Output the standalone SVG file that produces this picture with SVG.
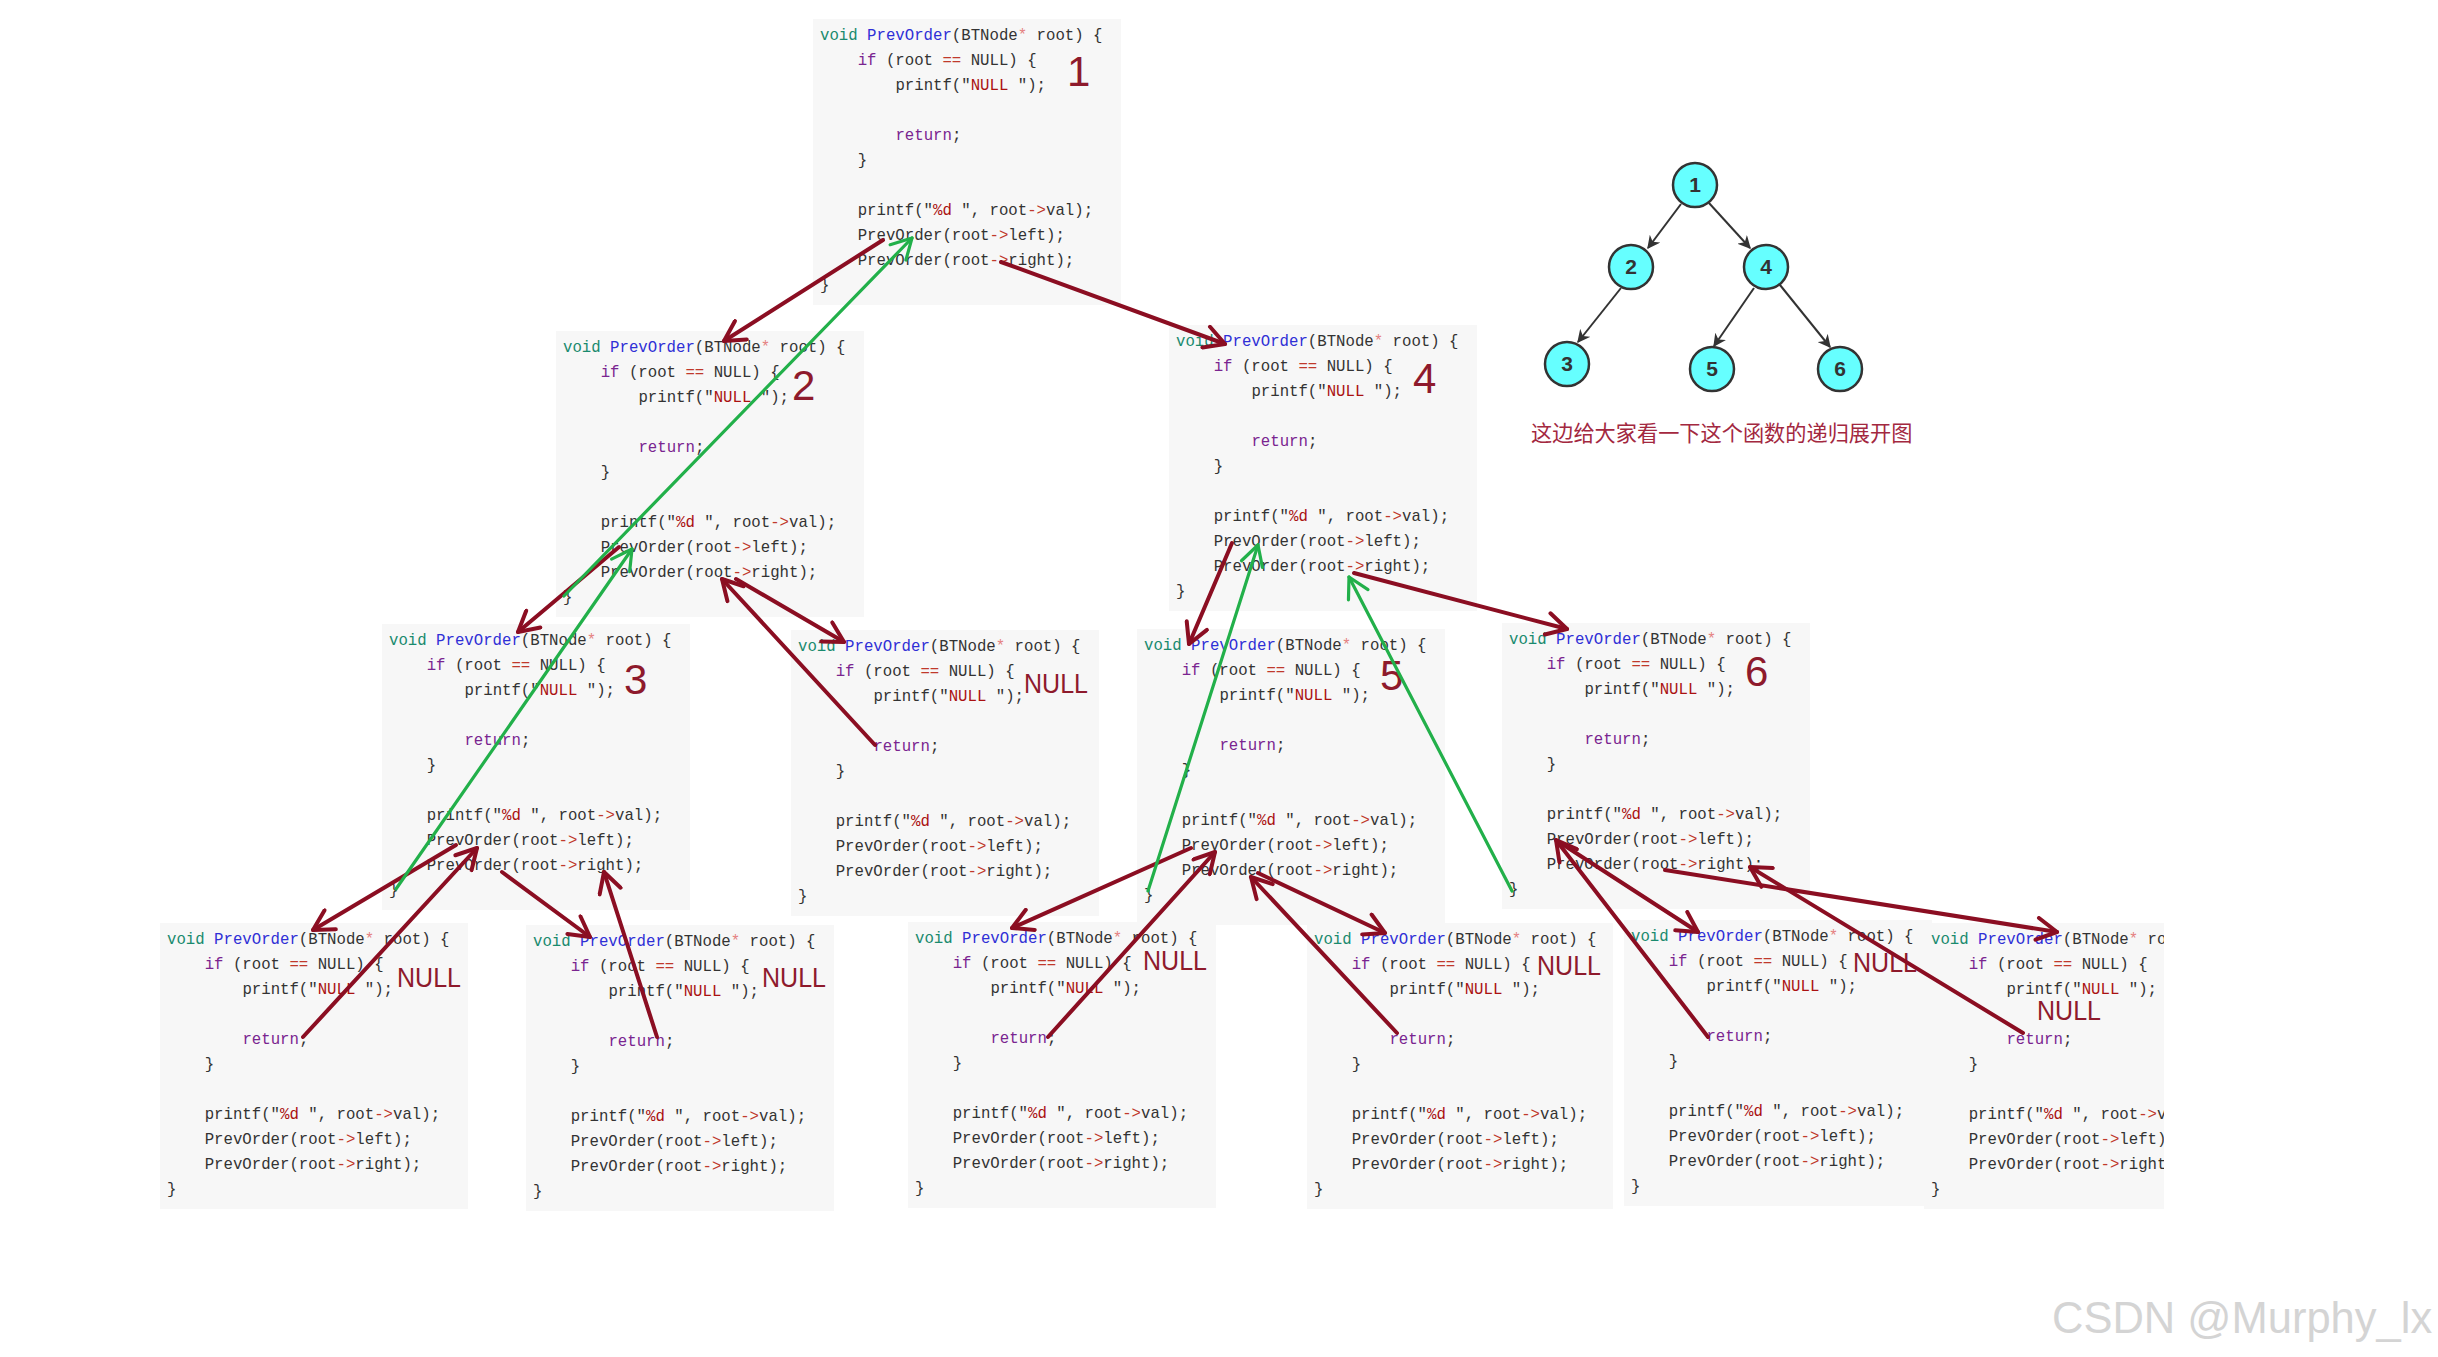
<svg xmlns="http://www.w3.org/2000/svg" width="2438" height="1357" viewBox="0 0 2438 1357">
<style>
.bg{fill:#f7f7f7}
.c{font-family:"Liberation Mono","DejaVu Sans Mono",monospace;font-size:15.7px;fill:#333}
.t{fill:#198a6e}
.d{fill:#2f2fd6}
.p{fill:#e58080}
.k{fill:#7a2590}
.o{fill:#c0392b}
.s{fill:#aa1111}
.num{font-family:"Liberation Sans","Noto Sans",sans-serif;font-size:42px;fill:#8e1a2c}
.nul{font-family:"Liberation Sans","Noto Sans",sans-serif;font-size:28px;fill:#8e1a2c}
.red{fill:none;stroke:#8b0e22;stroke-width:4;stroke-linecap:round;marker-end:url(#hr)}
.grn{fill:none;stroke:#22b04a;stroke-width:3.2;stroke-linecap:round;marker-end:url(#hg)}
.te{fill:none;stroke:#333;stroke-width:2;marker-end:url(#ht)}
.tn{fill:#66ffff;stroke:#333;stroke-width:2.5}
.tl{font-family:"Liberation Sans","Noto Sans",sans-serif;font-size:21px;font-weight:bold;fill:#333;text-anchor:middle}
</style>
<defs>
<marker id="hr" viewBox="0 0 26 26" refX="23" refY="13" markerWidth="26" markerHeight="26" markerUnits="userSpaceOnUse" orient="auto"><path d="M3,2 L23,13 L3,24" fill="none" stroke="#8b0e22" stroke-width="4" stroke-linecap="round" stroke-linejoin="round"/></marker>
<marker id="hg" viewBox="0 0 26 26" refX="23" refY="13" markerWidth="26" markerHeight="26" markerUnits="userSpaceOnUse" orient="auto"><path d="M3,2 L23,13 L3,24" fill="none" stroke="#22b04a" stroke-width="3.2" stroke-linecap="round" stroke-linejoin="round"/></marker>
<marker id="ht" viewBox="0 0 10 10" refX="9" refY="5" markerWidth="13" markerHeight="13" markerUnits="userSpaceOnUse" orient="auto"><path d="M0,0 L10,5 L0,10 L3,5 Z" fill="#333"/></marker>
<clipPath id="clipB6"><rect x="0" y="0" width="240" height="290"/></clipPath>
</defs>
<rect width="2438" height="1357" fill="#ffffff"/>

<g id="frame-1" transform="translate(813,19)">
<rect class="bg" width="308" height="286"/>
<text class="c" x="7" y="21"><tspan class="t">void</tspan> <tspan class="d">PrevOrder</tspan>(BTNode<tspan class="p">*</tspan> root) {</text>
<text class="c" x="44.7" y="46"><tspan class="k">if</tspan> (root <tspan class="o">==</tspan> NULL) {</text>
<text class="c" x="82.4" y="71">printf("<tspan class="s">NULL </tspan>");</text>
<text class="c" x="82.4" y="121"><tspan class="k">return</tspan>;</text>
<text class="c" x="44.7" y="146">}</text>
<text class="c" x="44.7" y="196">printf("<tspan class="s">%d </tspan>", root<tspan class="o">-&gt;</tspan>val);</text>
<text class="c" x="44.7" y="221">PrevOrder(root<tspan class="o">-&gt;</tspan>left);</text>
<text class="c" x="44.7" y="246">PrevOrder(root<tspan class="o">-&gt;</tspan>right);</text>
<text class="c" x="7" y="271">}</text>
<text class="num" x="254" y="67">1</text>
</g>

<g id="frame-2" transform="translate(556,331)">
<rect class="bg" width="308" height="286"/>
<text class="c" x="7" y="21"><tspan class="t">void</tspan> <tspan class="d">PrevOrder</tspan>(BTNode<tspan class="p">*</tspan> root) {</text>
<text class="c" x="44.7" y="46"><tspan class="k">if</tspan> (root <tspan class="o">==</tspan> NULL) {</text>
<text class="c" x="82.4" y="71">printf("<tspan class="s">NULL </tspan>");</text>
<text class="c" x="82.4" y="121"><tspan class="k">return</tspan>;</text>
<text class="c" x="44.7" y="146">}</text>
<text class="c" x="44.7" y="196">printf("<tspan class="s">%d </tspan>", root<tspan class="o">-&gt;</tspan>val);</text>
<text class="c" x="44.7" y="221">PrevOrder(root<tspan class="o">-&gt;</tspan>left);</text>
<text class="c" x="44.7" y="246">PrevOrder(root<tspan class="o">-&gt;</tspan>right);</text>
<text class="c" x="7" y="271">}</text>
<text class="num" x="236" y="69">2</text>
</g>

<g id="frame-4" transform="translate(1169,325)">
<rect class="bg" width="308" height="286"/>
<text class="c" x="7" y="21"><tspan class="t">void</tspan> <tspan class="d">PrevOrder</tspan>(BTNode<tspan class="p">*</tspan> root) {</text>
<text class="c" x="44.7" y="46"><tspan class="k">if</tspan> (root <tspan class="o">==</tspan> NULL) {</text>
<text class="c" x="82.4" y="71">printf("<tspan class="s">NULL </tspan>");</text>
<text class="c" x="82.4" y="121"><tspan class="k">return</tspan>;</text>
<text class="c" x="44.7" y="146">}</text>
<text class="c" x="44.7" y="196">printf("<tspan class="s">%d </tspan>", root<tspan class="o">-&gt;</tspan>val);</text>
<text class="c" x="44.7" y="221">PrevOrder(root<tspan class="o">-&gt;</tspan>left);</text>
<text class="c" x="44.7" y="246">PrevOrder(root<tspan class="o">-&gt;</tspan>right);</text>
<text class="c" x="7" y="271">}</text>
<text class="num" x="244" y="68">4</text>
</g>

<g id="frame-3" transform="translate(382,624)">
<rect class="bg" width="308" height="286"/>
<text class="c" x="7" y="21"><tspan class="t">void</tspan> <tspan class="d">PrevOrder</tspan>(BTNode<tspan class="p">*</tspan> root) {</text>
<text class="c" x="44.7" y="46"><tspan class="k">if</tspan> (root <tspan class="o">==</tspan> NULL) {</text>
<text class="c" x="82.4" y="71">printf("<tspan class="s">NULL </tspan>");</text>
<text class="c" x="82.4" y="121"><tspan class="k">return</tspan>;</text>
<text class="c" x="44.7" y="146">}</text>
<text class="c" x="44.7" y="196">printf("<tspan class="s">%d </tspan>", root<tspan class="o">-&gt;</tspan>val);</text>
<text class="c" x="44.7" y="221">PrevOrder(root<tspan class="o">-&gt;</tspan>left);</text>
<text class="c" x="44.7" y="246">PrevOrder(root<tspan class="o">-&gt;</tspan>right);</text>
<text class="c" x="7" y="271">}</text>
<text class="num" x="242" y="70">3</text>
</g>

<g id="frame-2-right-null" transform="translate(791,630)">
<rect class="bg" width="308" height="286"/>
<text class="c" x="7" y="21"><tspan class="t">void</tspan> <tspan class="d">PrevOrder</tspan>(BTNode<tspan class="p">*</tspan> root) {</text>
<text class="c" x="44.7" y="46"><tspan class="k">if</tspan> (root <tspan class="o">==</tspan> NULL) {</text>
<text class="c" x="82.4" y="71">printf("<tspan class="s">NULL </tspan>");</text>
<text class="c" x="82.4" y="121"><tspan class="k">return</tspan>;</text>
<text class="c" x="44.7" y="146">}</text>
<text class="c" x="44.7" y="196">printf("<tspan class="s">%d </tspan>", root<tspan class="o">-&gt;</tspan>val);</text>
<text class="c" x="44.7" y="221">PrevOrder(root<tspan class="o">-&gt;</tspan>left);</text>
<text class="c" x="44.7" y="246">PrevOrder(root<tspan class="o">-&gt;</tspan>right);</text>
<text class="c" x="7" y="271">}</text>
<text class="nul" x="233" y="63" textLength="64" lengthAdjust="spacingAndGlyphs">NULL</text>
</g>

<g id="frame-5" transform="translate(1137,629)">
<rect class="bg" width="308" height="296"/>
<text class="c" x="7" y="21"><tspan class="t">void</tspan> <tspan class="d">PrevOrder</tspan>(BTNode<tspan class="p">*</tspan> root) {</text>
<text class="c" x="44.7" y="46"><tspan class="k">if</tspan> (root <tspan class="o">==</tspan> NULL) {</text>
<text class="c" x="82.4" y="71">printf("<tspan class="s">NULL </tspan>");</text>
<text class="c" x="82.4" y="121"><tspan class="k">return</tspan>;</text>
<text class="c" x="44.7" y="146">}</text>
<text class="c" x="44.7" y="196">printf("<tspan class="s">%d </tspan>", root<tspan class="o">-&gt;</tspan>val);</text>
<text class="c" x="44.7" y="221">PrevOrder(root<tspan class="o">-&gt;</tspan>left);</text>
<text class="c" x="44.7" y="246">PrevOrder(root<tspan class="o">-&gt;</tspan>right);</text>
<text class="c" x="7" y="271">}</text>
<text class="num" x="243" y="61">5</text>
</g>

<g id="frame-6" transform="translate(1502,623)">
<rect class="bg" width="308" height="286"/>
<text class="c" x="7" y="21"><tspan class="t">void</tspan> <tspan class="d">PrevOrder</tspan>(BTNode<tspan class="p">*</tspan> root) {</text>
<text class="c" x="44.7" y="46"><tspan class="k">if</tspan> (root <tspan class="o">==</tspan> NULL) {</text>
<text class="c" x="82.4" y="71">printf("<tspan class="s">NULL </tspan>");</text>
<text class="c" x="82.4" y="121"><tspan class="k">return</tspan>;</text>
<text class="c" x="44.7" y="146">}</text>
<text class="c" x="44.7" y="196">printf("<tspan class="s">%d </tspan>", root<tspan class="o">-&gt;</tspan>val);</text>
<text class="c" x="44.7" y="221">PrevOrder(root<tspan class="o">-&gt;</tspan>left);</text>
<text class="c" x="44.7" y="246">PrevOrder(root<tspan class="o">-&gt;</tspan>right);</text>
<text class="c" x="7" y="271">}</text>
<text class="num" x="243" y="63">6</text>
</g>

<g id="frame-3-left-null" transform="translate(160,923)">
<rect class="bg" width="308" height="286"/>
<text class="c" x="7" y="21"><tspan class="t">void</tspan> <tspan class="d">PrevOrder</tspan>(BTNode<tspan class="p">*</tspan> root) {</text>
<text class="c" x="44.7" y="46"><tspan class="k">if</tspan> (root <tspan class="o">==</tspan> NULL) {</text>
<text class="c" x="82.4" y="71">printf("<tspan class="s">NULL </tspan>");</text>
<text class="c" x="82.4" y="121"><tspan class="k">return</tspan>;</text>
<text class="c" x="44.7" y="146">}</text>
<text class="c" x="44.7" y="196">printf("<tspan class="s">%d </tspan>", root<tspan class="o">-&gt;</tspan>val);</text>
<text class="c" x="44.7" y="221">PrevOrder(root<tspan class="o">-&gt;</tspan>left);</text>
<text class="c" x="44.7" y="246">PrevOrder(root<tspan class="o">-&gt;</tspan>right);</text>
<text class="c" x="7" y="271">}</text>
<text class="nul" x="237" y="64" textLength="64" lengthAdjust="spacingAndGlyphs">NULL</text>
</g>

<g id="frame-3-right-null" transform="translate(526,925)">
<rect class="bg" width="308" height="286"/>
<text class="c" x="7" y="21"><tspan class="t">void</tspan> <tspan class="d">PrevOrder</tspan>(BTNode<tspan class="p">*</tspan> root) {</text>
<text class="c" x="44.7" y="46"><tspan class="k">if</tspan> (root <tspan class="o">==</tspan> NULL) {</text>
<text class="c" x="82.4" y="71">printf("<tspan class="s">NULL </tspan>");</text>
<text class="c" x="82.4" y="121"><tspan class="k">return</tspan>;</text>
<text class="c" x="44.7" y="146">}</text>
<text class="c" x="44.7" y="196">printf("<tspan class="s">%d </tspan>", root<tspan class="o">-&gt;</tspan>val);</text>
<text class="c" x="44.7" y="221">PrevOrder(root<tspan class="o">-&gt;</tspan>left);</text>
<text class="c" x="44.7" y="246">PrevOrder(root<tspan class="o">-&gt;</tspan>right);</text>
<text class="c" x="7" y="271">}</text>
<text class="nul" x="236" y="62" textLength="64" lengthAdjust="spacingAndGlyphs">NULL</text>
</g>

<g id="frame-5-left-null" transform="translate(908,922)">
<rect class="bg" width="308" height="286"/>
<text class="c" x="7" y="21"><tspan class="t">void</tspan> <tspan class="d">PrevOrder</tspan>(BTNode<tspan class="p">*</tspan> root) {</text>
<text class="c" x="44.7" y="46"><tspan class="k">if</tspan> (root <tspan class="o">==</tspan> NULL) {</text>
<text class="c" x="82.4" y="71">printf("<tspan class="s">NULL </tspan>");</text>
<text class="c" x="82.4" y="121"><tspan class="k">return</tspan>;</text>
<text class="c" x="44.7" y="146">}</text>
<text class="c" x="44.7" y="196">printf("<tspan class="s">%d </tspan>", root<tspan class="o">-&gt;</tspan>val);</text>
<text class="c" x="44.7" y="221">PrevOrder(root<tspan class="o">-&gt;</tspan>left);</text>
<text class="c" x="44.7" y="246">PrevOrder(root<tspan class="o">-&gt;</tspan>right);</text>
<text class="c" x="7" y="271">}</text>
<text class="nul" x="235" y="48" textLength="64" lengthAdjust="spacingAndGlyphs">NULL</text>
</g>

<g id="frame-5-right-null" transform="translate(1307,923)">
<rect class="bg" width="306" height="286"/>
<text class="c" x="7" y="21"><tspan class="t">void</tspan> <tspan class="d">PrevOrder</tspan>(BTNode<tspan class="p">*</tspan> root) {</text>
<text class="c" x="44.7" y="46"><tspan class="k">if</tspan> (root <tspan class="o">==</tspan> NULL) {</text>
<text class="c" x="82.4" y="71">printf("<tspan class="s">NULL </tspan>");</text>
<text class="c" x="82.4" y="121"><tspan class="k">return</tspan>;</text>
<text class="c" x="44.7" y="146">}</text>
<text class="c" x="44.7" y="196">printf("<tspan class="s">%d </tspan>", root<tspan class="o">-&gt;</tspan>val);</text>
<text class="c" x="44.7" y="221">PrevOrder(root<tspan class="o">-&gt;</tspan>left);</text>
<text class="c" x="44.7" y="246">PrevOrder(root<tspan class="o">-&gt;</tspan>right);</text>
<text class="c" x="7" y="271">}</text>
<text class="nul" x="230" y="52" textLength="64" lengthAdjust="spacingAndGlyphs">NULL</text>
</g>

<g id="frame-6-left-null" transform="translate(1624,920)">
<rect class="bg" width="308" height="286"/>
<text class="c" x="7" y="21"><tspan class="t">void</tspan> <tspan class="d">PrevOrder</tspan>(BTNode<tspan class="p">*</tspan> root) {</text>
<text class="c" x="44.7" y="46"><tspan class="k">if</tspan> (root <tspan class="o">==</tspan> NULL) {</text>
<text class="c" x="82.4" y="71">printf("<tspan class="s">NULL </tspan>");</text>
<text class="c" x="82.4" y="121"><tspan class="k">return</tspan>;</text>
<text class="c" x="44.7" y="146">}</text>
<text class="c" x="44.7" y="196">printf("<tspan class="s">%d </tspan>", root<tspan class="o">-&gt;</tspan>val);</text>
<text class="c" x="44.7" y="221">PrevOrder(root<tspan class="o">-&gt;</tspan>left);</text>
<text class="c" x="44.7" y="246">PrevOrder(root<tspan class="o">-&gt;</tspan>right);</text>
<text class="c" x="7" y="271">}</text>
<text class="nul" x="229" y="52" textLength="64" lengthAdjust="spacingAndGlyphs">NULL</text>
</g>

<g id="frame-6-right-null" transform="translate(1924,923)" clip-path="url(#clipB6)">
<rect class="bg" width="240" height="286"/>
<text class="c" x="7" y="21"><tspan class="t">void</tspan> <tspan class="d">PrevOrder</tspan>(BTNode<tspan class="p">*</tspan> root) {</text>
<text class="c" x="44.7" y="46"><tspan class="k">if</tspan> (root <tspan class="o">==</tspan> NULL) {</text>
<text class="c" x="82.4" y="71">printf("<tspan class="s">NULL </tspan>");</text>
<text class="c" x="82.4" y="121"><tspan class="k">return</tspan>;</text>
<text class="c" x="44.7" y="146">}</text>
<text class="c" x="44.7" y="196">printf("<tspan class="s">%d </tspan>", root<tspan class="o">-&gt;</tspan>val);</text>
<text class="c" x="44.7" y="221">PrevOrder(root<tspan class="o">-&gt;</tspan>left);</text>
<text class="c" x="44.7" y="246">PrevOrder(root<tspan class="o">-&gt;</tspan>right);</text>
<text class="c" x="7" y="271">}</text>
<text class="nul" x="113" y="97" textLength="64" lengthAdjust="spacingAndGlyphs">NULL</text>
</g>

<g id="connectors">
<path class="red" d="M883,240 L724,341"/>
<path class="red" d="M1001,262 L1225,344"/>
<path class="red" d="M619,547 L518,632"/>
<path class="red" d="M736,579 L844,642"/>
<path class="red" d="M875,745 L722,579"/>
<path class="red" d="M456,845 L313,930"/>
<path class="red" d="M303,1037 L477,848"/>
<path class="red" d="M502,872 L590,937"/>
<path class="red" d="M657,1037 L604,872"/>
<path class="red" d="M1232,543 L1189,644"/>
<path class="red" d="M1354,573 L1567,629"/>
<path class="red" d="M1191,848 L1012,928"/>
<path class="red" d="M1048,1037 L1215,852"/>
<path class="red" d="M1258,873 L1385,933"/>
<path class="red" d="M1397,1033 L1251,877"/>
<path class="red" d="M1559,842 L1698,932"/>
<path class="red" d="M1708,1037 L1556,840"/>
<path class="red" d="M1665,870 L2057,932"/>
<path class="red" d="M2023,1033 L1750,867"/>
<path class="grn" d="M564,596 L912,238"/>
<path class="grn" d="M396,889 L632,549"/>
<path class="grn" d="M1148,891 L1258,545"/>
<path class="grn" d="M1512,891 L1349,577"/>
</g>

<g id="tree-edges">
<path class="te" d="M1681,204 L1648,248"/>
<path class="te" d="M1709,203 L1750,248"/>
<path class="te" d="M1621,288 L1578,342"/>
<path class="te" d="M1754,288 L1714,346"/>
<path class="te" d="M1780,285 L1830,347"/>
</g>
<g id="tree-node-1"><circle class="tn" cx="1695" cy="185" r="22"/><text class="tl" x="1695" y="192">1</text></g>
<g id="tree-node-2"><circle class="tn" cx="1631" cy="267" r="22"/><text class="tl" x="1631" y="274">2</text></g>
<g id="tree-node-4"><circle class="tn" cx="1766" cy="267" r="22"/><text class="tl" x="1766" y="274">4</text></g>
<g id="tree-node-3"><circle class="tn" cx="1567" cy="364" r="22"/><text class="tl" x="1567" y="371">3</text></g>
<g id="tree-node-5"><circle class="tn" cx="1712" cy="369" r="22"/><text class="tl" x="1712" y="376">5</text></g>
<g id="tree-node-6"><circle class="tn" cx="1840" cy="369" r="22"/><text class="tl" x="1840" y="376">6</text></g>

<g id="caption">
<text x="1531" y="441" font-family="'Noto Sans CJK SC','Noto Sans',sans-serif" font-size="21.2" fill="#a3283f">这边给大家看一下这个函数的递归展开图</text>
</g>
<g id="watermark">
<text x="2052" y="1333" font-family="'Liberation Sans',Arial,sans-serif" font-size="43.5" fill="#d4d4d4">CSDN @Murphy_lx</text>
</g>
</svg>
